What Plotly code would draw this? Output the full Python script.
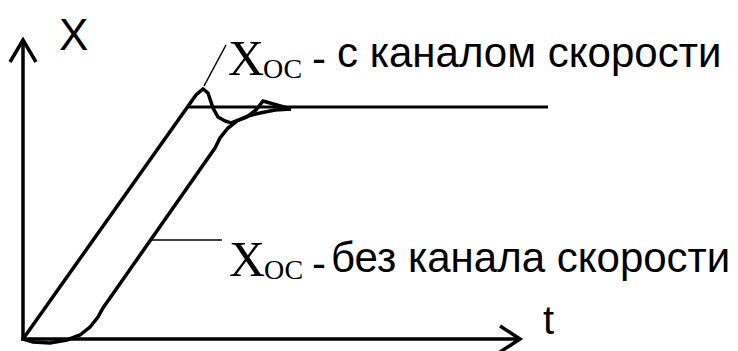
"""Step response sketch: X_oc with and without velocity channel."""

import plotly.graph_objects as go

# curve with velocity channel (t, X)
T_WITH = [0, 165, 173, 180, 185, 190, 195, 202, 208, 224, 233, 240, 247, 257, 268]
X_WITH = [0, 232, 244, 250, 246, 231, 222, 218, 216, 222, 229, 238, 236, 233, 230]

# curve without velocity channel
T_WITHOUT = [0, 10, 27, 44, 57, 67, 75, 80, 87, 192, 197, 205, 214, 225, 237,
             252, 268]
X_WITHOUT = [0, -3, -4, -1, 4, 12, 22, 31, 41, 191, 201, 211, 218, 223, 226,
             229, 230]

# steady-state level
T_LEVEL = [165, 525]
X_LEVEL = [232, 232]

# axes with open arrowheads
T_YAXIS = [0, 0, None, -13, 0, 13]
X_YAXIS = [-2, 299, None, 277, 299, 277]
T_XAXIS = [-2, 497, None, 477, 497, 477]
X_XAXIS = [0, 0, None, 13, 0, -13]

# leader lines to the labels
T_LEAD1 = [181, 203]
X_LEAD1 = [253, 294]
T_LEAD2 = [129, 199]
X_LEAD2 = [99, 99]

LABEL_WITH = 'с каналом скорости'
LABEL_WITHOUT = 'без канала скорости'

SANS = 'Liberation Sans'
SERIF = 'Liberation Serif'

fig = go.Figure()


def add_line(t, x, width):
  fig.add_trace(go.Scatter(
      x=t, y=x, mode='lines',
      line=dict(color='black', width=width),
      hoverinfo='skip', showlegend=False,
  ))


add_line(T_YAXIS, X_YAXIS, 3.5)
add_line(T_XAXIS, X_XAXIS, 3.5)
add_line(T_LEVEL, X_LEVEL, 3)
add_line(T_WITH, X_WITH, 3.5)
add_line(T_WITHOUT, X_WITHOUT, 3.5)
add_line(T_LEAD1, X_LEAD1, 1.5)
add_line(T_LEAD2, X_LEAD2, 1.5)


def label(text, t, x, font, size, anchor='left', vanchor='middle'):
  fig.add_annotation(
      x=t, y=x, xref='x', yref='y', text=text, showarrow=False,
      xanchor=anchor, yanchor=vanchor,
      font=dict(family=font, size=size, color='black'),
  )


# axis names
label('X', 50, 331, SANS, 44, 'center', 'top')
label('t', 525, 19, SANS, 40, 'center')

# upper label
label('X', 203, 281, SERIF, 50)
label('ОС', 238, 271, SERIF, 28)
label('-', 287, 281, SANS, 42)
label(LABEL_WITH, 312, 287, SANS, 42)

# lower label
label('X', 204, 80, SERIF, 50)
label('ОС', 239, 70, SERIF, 28)
label('-', 287, 76, SANS, 42)
label(LABEL_WITHOUT, 306, 82, SANS, 42)

# the page body keeps an 8 px margin, so the ranges start 8 units early
fig.update_layout(
    width=738,
    height=351,
    margin=dict(l=0, r=0, t=0, b=0),
    plot_bgcolor='white',
    paper_bgcolor='white',
    xaxis=dict(range=[-15, 723], visible=False, fixedrange=True),
    yaxis=dict(range=[-20, 331], visible=False, fixedrange=True),
    showlegend=False,
)

fig.write_html('out.html')
